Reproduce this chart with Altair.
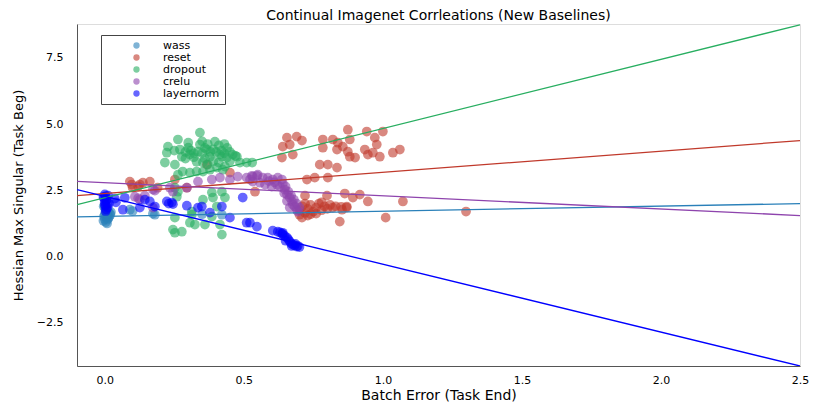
import altair as alt
import pandas as pd

series = ["wass", "reset", "dropout", "crelu", "layernorm"]
colors = ["#2a80b9", "#c0392b", "#27ae60", "#8e44ad", "#0000ff"]

wass_x = [-0.005, 0.0, 0.005, 0.01, 0.0, 0.007, 0.012, 0.003, 0.015, 0.018, -0.003, 0.01, 0.02, 0.006,
          0.0, 0.013, 0.004, 0.022, 0.008, -0.004, 0.09, 0.10, 0.173, 0.18, 0.35, 0.421]
wass_y = [1.35, 1.42, 1.48, 1.55, 1.6, 1.65, 1.7, 1.75, 1.5, 1.62, 1.52, 1.4, 1.58, 1.8,
          1.85, 1.45, 1.3, 1.68, 1.25, 1.9, 1.77, 1.72, 1.62, 1.58, 1.6, 1.58]

reset_x = [0.09, 0.097, 0.10, 0.126, 0.137, 0.162, 0.19, 0.12, 0.252, 0.295, 0.367, 0.45, 0.54,
           0.655, 0.64, 0.665, 0.69, 0.709, 0.676, 0.637,
           0.784, 0.784, 0.82, 0.838, 0.835, 0.856, 0.874, 0.881, 0.874, 0.881, 0.9, 0.942, 0.971, 1.0,
           0.978, 0.935, 0.946, 0.964, 0.989, 1.036, 1.061,
           0.773, 0.802, 0.835, 0.727, 0.755, 0.802, 0.72, 0.799, 0.863, 0.892, 0.917, 0.946, 0.87, 0.853,
           1.072, 0.845, 1.01, 0.709, 1.299,
           0.70, 0.71, 0.72, 0.73, 0.74, 0.75, 0.76, 0.77, 0.78, 0.79, 0.80, 0.81, 0.82, 0.83, 0.74, 0.76,
           0.72, 0.78, 0.85, 0.87, 0.70, 0.73]
reset_y = [2.83, 2.72, 2.6, 2.72, 2.79, 2.83, 2.6, 2.65, 2.91, 2.6, 3.47, 3.17, 2.45,
           4.49, 4.15, 4.23, 4.53, 4.38, 3.85, 3.74,
           4.42, 4.11, 4.42, 4.30, 4.04, 4.15, 4.79, 4.42, 3.96, 3.77, 3.74, 4.72, 4.49, 4.72,
           4.23, 4.04, 3.85, 3.92, 3.77, 3.92, 4.04,
           3.47, 3.47, 3.36, 2.91, 2.98, 2.98, 2.30, 2.30, 2.38, 2.23, 2.34, 2.08, 1.89, 1.77,
           2.08, 1.32, 1.47, 1.47, 1.70,
           1.75, 1.9, 1.65, 1.8, 1.95, 1.7, 1.85, 2.0, 1.75, 1.9, 1.8, 1.95, 1.85, 1.9, 1.6, 1.62,
           2.0, 2.05, 1.88, 1.85, 1.58, 1.55]

dropout_x = [0.342, 0.263, 0.227, 0.223, 0.216, 0.252, 0.27, 0.277, 0.3, 0.306, 0.335, 0.342, 0.367,
             0.378, 0.396, 0.414, 0.421, 0.439, 0.46, 0.475, 0.486, 0.33, 0.353, 0.37, 0.28, 0.306,
             0.33, 0.353, 0.378, 0.403, 0.432, 0.263,
             0.29, 0.31, 0.32, 0.35, 0.36, 0.38, 0.39, 0.40, 0.42, 0.43, 0.44, 0.45, 0.35, 0.37, 0.41,
             0.43, 0.29, 0.32, 0.36, 0.39, 0.41, 0.45, 0.47, 0.30, 0.25,
             0.252, 0.263, 0.259, 0.385, 0.421, 0.432, 0.389, 0.313, 0.306, 0.252, 0.245, 0.277, 0.252,
             0.324, 0.36, 0.414, 0.421, 0.385, 0.353, 0.403, 0.51, 0.53, 0.424, 0.313]
dropout_y = [4.68, 4.42, 4.15, 3.92, 3.55, 3.47, 4.04, 3.77, 4.11, 3.85, 3.96, 4.23, 4.04,
             3.77, 4.34, 3.85, 3.77, 3.74, 3.85, 3.77, 3.55, 3.58, 3.55, 3.47, 3.21, 3.17,
             3.21, 3.21, 3.28, 3.36, 3.4, 3.09,
             3.95, 4.0, 3.9, 3.9, 4.1, 3.95, 4.05, 3.95, 4.0, 3.9, 4.1, 3.95, 4.35, 4.25, 4.2,
             4.25, 3.7, 3.75, 3.7, 3.6, 3.55, 3.6, 3.8, 4.3, 4.0,
             2.6, 2.45, 2.26, 2.42, 2.45, 2.23, 2.23, 1.58, 1.28, 1.47, 1.02, 0.94, 0.9,
             1.21, 1.21, 1.21, 0.83, 1.51, 2.15, 1.89, 3.55, 3.55, 3.28, 1.70]

crelu_x = [0.108, 0.126, 0.144, 0.18, 0.173, 0.234, 0.295, 0.173, 0.245, 0.335, 0.385, 0.414, 0.45,
           0.478, 0.51, 0.532, 0.55, 0.12,
           0.529, 0.547, 0.568, 0.586, 0.604, 0.622, 0.637, 0.576, 0.60, 0.63, 0.647, 0.655, 0.665,
           0.673, 0.676, 0.683, 0.665, 0.69, 0.694, 0.532, 0.558, 0.522,
           0.59, 0.61, 0.62, 0.64, 0.65, 0.66, 0.67, 0.68, 0.69, 0.70, 0.655, 0.645]
crelu_y = [2.26, 2.15, 2.30, 2.49, 1.85, 2.6, 2.6, 2.53, 2.45, 2.83, 2.91, 2.98, 2.91,
           3.02, 2.98, 3.02, 3.09, 2.2,
           3.05, 3.05, 2.98, 2.98, 2.91, 2.98, 2.91, 2.72, 2.64, 2.64, 2.53, 2.34, 2.23,
           2.08, 1.96, 1.89, 1.85, 1.77, 1.70, 2.83, 2.79, 2.91,
           2.85, 2.8, 2.7, 2.75, 2.65, 2.45, 2.3, 2.15, 2.0, 1.85, 2.1, 2.4]

layernorm_x = [0.0, 0.003, -0.003, 0.005, 0.0, 0.008, 0.002, 0.01, 0.005, 0.012, -0.005, 0.007, 0.0,
               0.015, 0.003, 0.036, 0.04, 0.065, 0.072, 0.126, 0.144, 0.162, 0.18, 0.223, 0.23, 0.241,
               0.245, 0.295, 0.335, 0.349, 0.378, 0.421, 0.45, 0.496, 0.51, 0.522, 0.547, 0.604,
               0.622, 0.63, 0.637, 0.64, 0.647, 0.655, 0.66, 0.665, 0.67, 0.676, 0.683, 0.69, 0.694,
               0.70, 0.672, 0.685, 0.65, 0.64]
layernorm_y = [2.35, 2.28, 2.2, 2.12, 2.05, 1.98, 1.92, 1.85, 1.78, 2.3, 2.25, 2.15, 1.95,
               2.0, 1.7, 2.19, 2.05, 1.77, 2.22, 1.85, 2.15, 2.08, 1.89, 2.08, 2.0, 2.04,
               1.98, 1.92, 1.85, 1.89, 1.66, 1.89, 1.47, 2.23, 1.28, 1.28, 1.13, 0.98,
               0.94, 0.91, 0.87, 0.83, 0.78, 0.72, 0.65, 0.57, 0.5, 0.45, 0.42, 0.38, 0.40,
               0.36, 0.40, 0.48, 0.6, 0.9]

# fitted trend lines: value at x = -0.1 and x = 2.5
line_x = [-0.1, 2.5]
line_y = {
    "wass": [1.50, 2.00],
    "reset": [2.30, 4.38],
    "dropout": [1.96, 8.75],
    "crelu": [2.84, 1.55],
    "layernorm": [2.53, -4.13],
}

xs = {"wass": wass_x, "reset": reset_x, "dropout": dropout_x, "crelu": crelu_x, "layernorm": layernorm_x}
ys = {"wass": wass_y, "reset": reset_y, "dropout": dropout_y, "crelu": crelu_y, "layernorm": layernorm_y}

rows = []
for i, s in enumerate(series):
    for x, y in zip(xs[s], ys[s]):
        rows.append({"series": s, "order": i, "x": x, "y": y})
pts = pd.DataFrame(rows)

lrows = []
for i, s in enumerate(series):
    for x, y in zip(line_x, line_y[s]):
        lrows.append({"series": s, "col": colors[i], "x": x, "y": y})
lines_df = pd.DataFrame(lrows)

FONT = "DejaVu Sans"
xscale = alt.Scale(domain=[-0.1, 2.5], nice=False, zero=False)
yscale = alt.Scale(domain=[-4.13, 8.78], nice=False, zero=False)

xaxis = alt.Axis(values=[0.0, 0.5, 1.0, 1.5, 2.0, 2.5], format=".1f", grid=False, ticks=False,
                 labelPadding=8, labelFontSize=11, labelColor="black", domainColor="#555555",
                 labelFlush=False,
                 title="Batch Error (Task End)", titleFontSize=14, titleFontWeight="normal",
                 titleColor="black", titlePadding=3)
yaxis = alt.Axis(values=[-2.5, 0.0, 2.5, 5.0, 7.5], format=".1f", grid=False, ticks=False,
                 labelPadding=14, labelFontSize=11, labelColor="black", domainColor="#555555",
                 labelFlush=False,
                 title="Hessian Max Singular (Task Beg)", titleFontSize=13, titleFontWeight="normal",
                 titleColor="black", titlePadding=11)

points = alt.Chart(pts).mark_circle(size=95, opacity=0.6).encode(
    x=alt.X("x:Q", scale=xscale, axis=xaxis),
    y=alt.Y("y:Q", scale=yscale, axis=yaxis),
    color=alt.Color("series:N", scale=alt.Scale(domain=series, range=colors),
                    legend=alt.Legend(title=None, orient="none", legendX=24, legendY=11,
                                      strokeColor="#444444", fillColor="white", padding=5,
                                      symbolType="circle", symbolSize=40, symbolOpacity=0.6,
                                      symbolOffset=25, labelOffset=21, labelFontSize=11,
                                      labelColor="black", rowPadding=0, labelFont=FONT)),
    order=alt.Order("order:Q"),
)

lines = alt.Chart(lines_df).mark_line(strokeWidth=1.3, clip=True).encode(
    x=alt.X("x:Q", scale=xscale),
    y=alt.Y("y:Q", scale=yscale),
    detail="series:N",
    color=alt.Color("col:N", scale=None),
)

chart = alt.layer(points, lines).resolve_scale(color="independent").properties(
    width=723, height=342,
    padding={"left": 69, "top": 16, "right": 14, "bottom": 37},
    autosize=alt.AutoSizeParams(type="none"),
    title=alt.Title("Continual Imagenet Corrleations (New Baselines)", fontSize=14,
                    fontWeight="normal", font=FONT, color="black", offset=1),
).configure_view(strokeWidth=0, stroke="transparent").configure(font=FONT)

chart.save("out.html", embed_options={"renderer": "svg", "actions": False})
